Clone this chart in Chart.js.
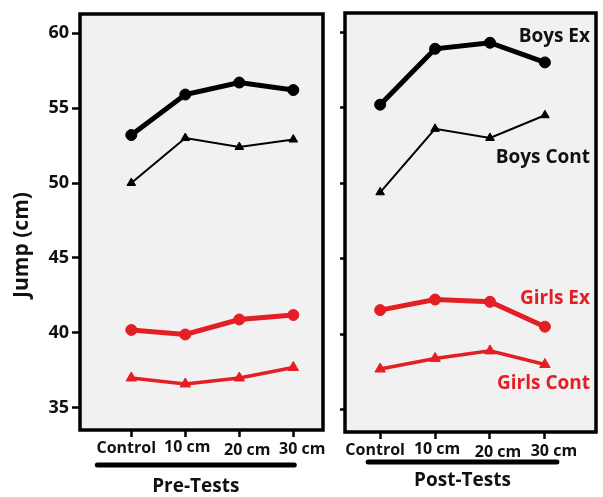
<!DOCTYPE html>
<html><head><meta charset="utf-8">
<script src="https://cdn.jsdelivr.net/npm/chart.js@4.4.0/dist/chart.umd.min.js"></script>
<style>
html,body{margin:0;padding:0;background:#fff;}
#wrap{position:relative;width:603px;height:497px;overflow:hidden;}
#p1{position:absolute;left:0;top:0;width:330px;height:497px;}
#p2{position:absolute;left:330px;top:0;width:273px;height:497px;}
</style></head><body>
<div id="wrap"><div id="p1"><canvas id="c1"></canvas></div><div id="p2"><canvas id="c2"></canvas></div></div>
<script>
const categories = ['Control', '10 cm', '20 cm', '30 cm'];
const yTicks = [35, 40, 45, 50, 55, 60];
const preBoysEx = [53.2, 55.9, 56.7, 56.2];
const preBoysCont = [50.0, 53.0, 52.4, 52.9];
const preGirlsEx = [40.2, 39.9, 40.9, 41.2];
const preGirlsCont = [37.0, 36.6, 37.0, 37.7];
const postBoysEx = [55.2, 58.9, 59.3, 58.0];
const postBoysCont = [49.4, 53.6, 53.0, 54.5];
const postGirlsEx = [41.6, 42.3, 42.15, 40.5];
const postGirlsCont = [37.7, 38.4, 38.9, 38.0];
const seriesNames = ['Boys Ex', 'Boys Cont', 'Girls Ex', 'Girls Cont'];
const seriesLabelAt = [59.73, 51.73, 42.33, 36.73];
const panelTitles = ['Pre-Tests', 'Post-Tests'];
const yTitle = 'Jump (cm)';

const BLACK = '#000000';
const RED = '#e31e24';
const FONT = "'Open Sans', 'DejaVu Sans', sans-serif";
// small hand-lettered placement of the category labels (offset from tick, baseline below axis)
const catLabelDx = [-5, 2, 8, 9];
const catLabelDy = [23, 22, 25, 24];

function pts(arr){ return arr.map((v,i)=>({x:i, y:v})); }

function datasets(bEx, bCont, gEx, gCont){
  return [
    {label: seriesNames[0], data: pts(bEx), borderColor: BLACK, backgroundColor: BLACK, borderWidth: 5, pointStyle:'circle', pointRadius: 5.5, pointBorderWidth: 1, tension: 0},
    {label: seriesNames[1], data: pts(bCont), borderColor: BLACK, backgroundColor: BLACK, borderWidth: 2, pointStyle:'triangle', pointRadius: 5, pointBorderWidth: 1, tension: 0},
    {label: seriesNames[2], data: pts(gEx), borderColor: RED, backgroundColor: RED, borderWidth: 5, pointStyle:'circle', pointRadius: 5.5, pointBorderWidth: 1, tension: 0},
    {label: seriesNames[3], data: pts(gCont), borderColor: RED, backgroundColor: RED, borderWidth: 3.5, pointStyle:'triangle', pointRadius: 6, pointBorderWidth: 1, tension: 0}
  ];
}

const panelPlugin = {
  id: 'panel',
  beforeDraw(chart){
    const {ctx, chartArea: a} = chart;
    ctx.save();
    ctx.fillStyle = '#f1f1f1';
    ctx.fillRect(a.left, a.top, a.right - a.left, a.bottom - a.top);
    ctx.restore();
  },
  afterDraw(chart){
    const {ctx, chartArea: a} = chart;
    const o = chart.options.plugins.panel;
    ctx.save();
    ctx.strokeStyle = '#000';
    ctx.lineWidth = 3.5;
    ctx.strokeRect(a.left, a.top, a.right - a.left, a.bottom - a.top);
    const xs = chart.scales.x;
    // category labels
    ctx.font = "bold 16px " + FONT;
    ctx.fillStyle = '#111';
    ctx.textAlign = 'center';
    ctx.textBaseline = 'alphabetic';
    categories.forEach((c, i) => {
      ctx.fillText(c, xs.getPixelForValue(i) + catLabelDx[i], a.bottom + catLabelDy[i]);
    });
    // bar under category labels
    const x0 = xs.getPixelForValue(0) + o.barL;
    const x1 = xs.getPixelForValue(categories.length - 1) + o.barR;
    ctx.lineWidth = 5;
    ctx.lineCap = 'round';
    ctx.strokeStyle = '#000';
    ctx.beginPath();
    ctx.moveTo(x0, o.barY);
    ctx.lineTo(x1, o.barY);
    ctx.stroke();
    // panel title
    ctx.font = "bold 19px " + FONT;
    ctx.fillText(o.title, (x0 + x1) / 2, o.barY + o.titleDy);
    if (o.yTitle) {
      ctx.translate(22, 245);
      ctx.rotate(-Math.PI/2);
      ctx.font = "bold 21px " + FONT;
      ctx.textAlign = 'center';
      ctx.textBaseline = 'middle';
      ctx.fillText(yTitle, 0, 0);
      ctx.setTransform(1,0,0,1,0,0);
    }
    if (o.seriesLabels) {
      const ys = chart.scales.y;
      ctx.font = "bold 19px " + FONT;
      ctx.textAlign = 'right';
      ctx.textBaseline = 'middle';
      seriesNames.forEach((n, i) => {
        ctx.fillStyle = i < 2 ? '#111' : RED;
        ctx.fillText(n, a.right - 6, ys.getPixelForValue(seriesLabelAt[i]));
      });
    }
    ctx.restore();
  }
};

function makePanel(id, ds, cfg){
  return new Chart(document.getElementById(id), {
    type: 'line',
    data: { datasets: ds },
    plugins: [panelPlugin],
    options: {
      responsive: true,
      maintainAspectRatio: false,
      animation: false,
      layout: { padding: { left: 0, top: cfg.top, right: cfg.right, bottom: 0 } },
      plugins: {
        legend: { display: false },
        tooltip: { enabled: false },
        panel: cfg.panel
      },
      scales: {
        x: {
          type: 'linear',
          min: cfg.xMin, max: cfg.xMax,
          afterBuildTicks: s => { s.ticks = categories.map((c, i) => ({value: i})); },
          afterFit: s => { s.height = cfg.xHeight; },
          ticks: { display: false },
          grid: { drawOnChartArea: false, drawTicks: true, tickLength: 7, tickWidth: 2.5, tickColor: '#000' },
          border: { display: false },
          title: { display: false }
        },
        y: {
          type: 'linear',
          min: 33.53, max: 61.27,
          afterBuildTicks: s => { s.ticks = yTicks.map(v => ({value: v})); },
          afterFit: s => { s.width = cfg.yWidth; },
          ticks: {
            display: cfg.yLabels,
            font: { family: FONT, size: 18, weight: 'bold' },
            color: '#111', padding: 3
          },
          grid: { drawOnChartArea: false, drawTicks: true, tickLength: cfg.yTick, tickWidth: 2.5, tickColor: '#000' },
          border: { display: false }
        }
      }
    }
  });
}

makePanel('c1', datasets(preBoysEx, preBoysCont, preGirlsEx, preGirlsCont), {
  top: 14, right: 4, xMin: -0.95, xMax: 3.55, xHeight: 67, yWidth: 80, yLabels: true, yTick: 8,
  panel: { title: panelTitles[0], titleDy: 26.5, barL: -34, barR: 1, barY: 465, yTitle: true, seriesLabels: false }
});
makePanel('c2', datasets(postBoysEx, postBoysCont, postGirlsEx, postGirlsCont), {
  top: 13, right: 7, xMin: -0.64, xMax: 3.93, xHeight: 65, yWidth: 15, yLabels: false, yTick: 5,
  panel: { title: panelTitles[1], titleDy: 24, barL: -12, barR: 12, barY: 462, yTitle: false, seriesLabels: true }
});
</script>
</body></html>
